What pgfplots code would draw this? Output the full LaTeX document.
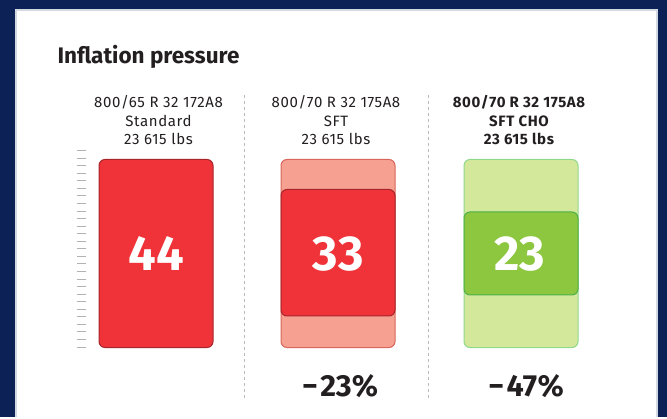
\documentclass[border=0pt]{standalone}
\usepackage{pgfplots}
\pgfplotsset{compat=1.18}
\usepackage{fontspec}
\setmainfont{Fira Sans}
\newfontfamily\labelfont[LetterSpace=4]{Fira Sans}
\definecolor{navy}{HTML}{0C2256}
\definecolor{panelborder}{HTML}{D3D9E2}
\definecolor{barred}{HTML}{EF3339}
\definecolor{barredd}{HTML}{A8252B}
\definecolor{salmon}{HTML}{F6A092}
\definecolor{salmond}{HTML}{D9665C}
\definecolor{lgreen}{HTML}{D4E89C}
\definecolor{lgreend}{HTML}{90D88A}
\definecolor{dgreen}{HTML}{8DC63F}
\definecolor{dgreend}{HTML}{4DB04A}
\definecolor{txt}{HTML}{231F20}
\begin{document}
\begin{tikzpicture}
\begin{axis}[
  width=667pt, height=417pt, scale only axis,
  xmin=0, xmax=667, ymin=0, ymax=417,
  hide axis, clip=false,
]
% background and panel
\fill[navy] (axis cs:0,0) rectangle (axis cs:667,417);
\fill[white] (axis cs:16,0) rectangle (axis cs:657,407);
\draw[panelborder, line width=2pt] (axis cs:16,0) -- (axis cs:16,407) -- (axis cs:657,407) -- (axis cs:657,0);
% title
\node[anchor=base west, font=\fontsize{22.5}{26}\selectfont\bfseries, text=txt] at (axis cs:54,353) {Inflation pressure};
% separators
\draw[gray!55, line width=1pt, dash pattern=on 3pt off 3pt] (axis cs:244,322) -- (axis cs:244,19);
\draw[gray!55, line width=1pt, dash pattern=on 3pt off 3pt] (axis cs:428,322) -- (axis cs:428,19);
% column labels
\begin{scope}[every node/.style={anchor=base, font=\labelfont\fontsize{15}{17}\selectfont, text=txt}]
\node at (axis cs:158.5,309) {800/65 R 32 172A8};
\node at (axis cs:158.5,290) {Standard};
\node at (axis cs:158.5,272) {23 615 lbs};
\node at (axis cs:336,309) {800/70 R 32 175A8};
\node at (axis cs:336,290) {SFT};
\node at (axis cs:336,272) {23 615 lbs};
\node[font=\labelfont\fontsize{15}{17}\selectfont\bfseries] at (axis cs:519,309) {800/70 R 32 175A8};
\node[font=\labelfont\fontsize{15}{17}\selectfont\bfseries] at (axis cs:519,290) {SFT CHO};
\node[font=\labelfont\fontsize{15}{17}\selectfont\bfseries] at (axis cs:519,272) {23 615 lbs};
\end{scope}
% scale ticks
\addplot[only marks, mark=-, mark size=4.5pt, mark options={draw=gray!60, line width=1pt}] coordinates {
(81.5,266.3)(81.5,258.7)(81.5,251.2)(81.5,243.6)(81.5,236.1)(81.5,228.5)(81.5,221.0)(81.5,213.4)(81.5,205.9)
(81.5,198.3)(81.5,190.8)(81.5,183.2)(81.5,175.7)(81.5,168.1)(81.5,160.6)(81.5,153.0)(81.5,145.5)(81.5,137.9)
(81.5,130.4)(81.5,122.8)(81.5,115.3)(81.5,107.7)(81.5,100.2)(81.5,92.6)(81.5,85.1)(81.5,77.5)(81.5,70.0)};
% bars
\addplot[fill=barred, draw=barredd, line width=1pt, rounded corners=6pt] coordinates {(99,69.5)(213,69.5)(213,257.5)(99,257.5)} -- cycle;
\addplot[fill=salmon, draw=salmond, line width=1pt, rounded corners=6pt] coordinates {(281,69.5)(395,69.5)(395,257.5)(281,257.5)} -- cycle;
\addplot[fill=barred, draw=barredd, line width=1pt, rounded corners=6pt] coordinates {(281,101)(395,101)(395,227.5)(281,227.5)} -- cycle;
\addplot[fill=lgreen, draw=lgreend, line width=1pt, rounded corners=6pt] coordinates {(464,69.5)(578,69.5)(578,257.5)(464,257.5)} -- cycle;
\addplot[fill=dgreen, draw=dgreend, line width=1pt, rounded corners=6pt] coordinates {(464,122)(578,122)(578,205)(464,205)} -- cycle;
% values
\node[font=\fontsize{49}{52}\selectfont\bfseries, text=white] at (axis cs:156,163) {44};
\node[font=\fontsize{49}{52}\selectfont\bfseries, text=white] at (axis cs:338,163) {33};
\node[font=\fontsize{49}{52}\selectfont\bfseries, text=white] at (axis cs:520,163) {23};
% reductions
\node[font=\fontsize{30.5}{33}\selectfont\bfseries, text=txt] at (axis cs:340,30.5) {\char"2212\hspace{2.5pt}23\%};
\node[font=\fontsize{30.5}{33}\selectfont\bfseries, text=txt] at (axis cs:526,30.5) {\char"2212\hspace{2.5pt}47\%};
\end{axis}
\end{tikzpicture}
\end{document}
